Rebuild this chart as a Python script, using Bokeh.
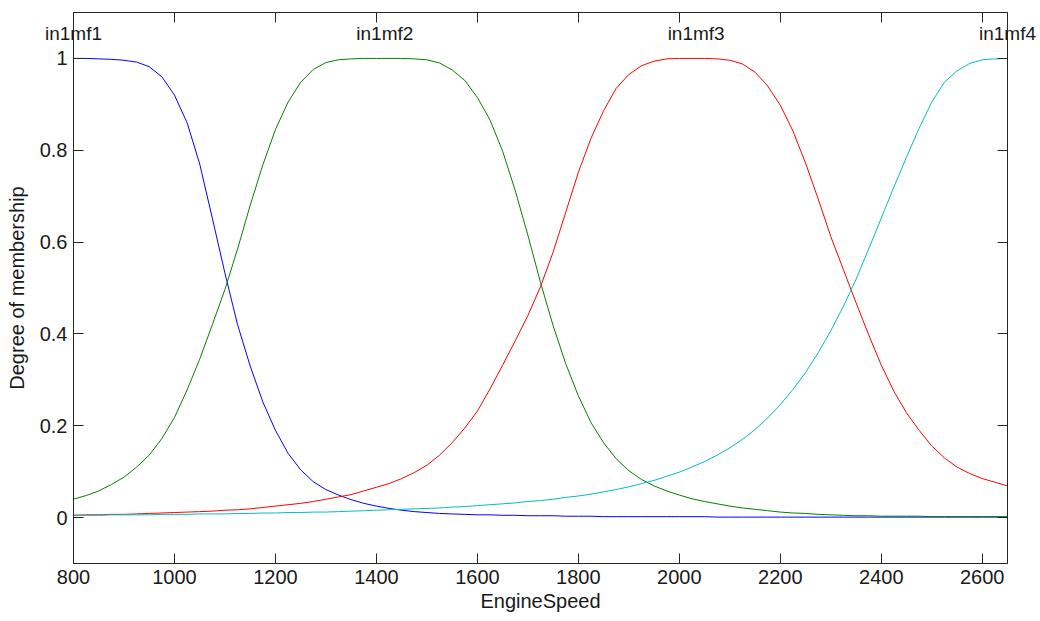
from bokeh.plotting import figure
from bokeh.models import Range1d, LinearAxis, FixedTicker
from bokeh.embed import file_html
from bokeh.resources import INLINE

engine_speed = list(range(800, 2651, 25))

in1mf1 = [1.000, 1.000, 0.999, 0.998, 0.996, 0.992, 0.982, 0.960, 0.920, 0.860,
          0.770, 0.652, 0.532, 0.420, 0.330, 0.252, 0.190, 0.140, 0.104, 0.078,
          0.061, 0.049, 0.039, 0.031, 0.025, 0.020, 0.016, 0.013, 0.011, 0.009,
          0.008, 0.007, 0.006, 0.006, 0.005, 0.005, 0.004, 0.004, 0.004, 0.003,
          0.003, 0.003, 0.002, 0.002, 0.002, 0.002, 0.002, 0.002, 0.002, 0.002,
          0.002, 0.001, 0.001, 0.001, 0.001, 0.001, 0.001, 0.001, 0.001, 0.001,
          0.001, 0.001, 0.001, 0.001, 0.001, 0.001, 0.001, 0.001, 0.001, 0.001,
          0.001, 0.001, 0.001, 0.001, 0.001]

in1mf2 = [0.040, 0.048, 0.058, 0.072, 0.088, 0.110, 0.136, 0.172, 0.218, 0.278,
          0.345, 0.420, 0.497, 0.585, 0.680, 0.768, 0.845, 0.905, 0.948, 0.976,
          0.991, 0.997, 0.999, 1.000, 1.000, 1.000, 1.000, 0.999, 0.997, 0.990,
          0.975, 0.952, 0.915, 0.866, 0.798, 0.712, 0.615, 0.512, 0.418, 0.335,
          0.265, 0.207, 0.163, 0.128, 0.102, 0.083, 0.069, 0.058, 0.049, 0.041,
          0.035, 0.030, 0.025, 0.021, 0.018, 0.015, 0.012, 0.010, 0.009, 0.007,
          0.006, 0.005, 0.004, 0.004, 0.003, 0.003, 0.003, 0.003, 0.002, 0.002,
          0.002, 0.002, 0.002, 0.002, 0.002]

in1mf3 = [0.005, 0.006, 0.006, 0.007, 0.007, 0.008, 0.009, 0.010, 0.011, 0.012,
          0.013, 0.014, 0.016, 0.017, 0.019, 0.022, 0.025, 0.028, 0.031, 0.035,
          0.040, 0.045, 0.050, 0.058, 0.066, 0.074, 0.085, 0.098, 0.114, 0.136,
          0.163, 0.195, 0.232, 0.280, 0.332, 0.385, 0.440, 0.503, 0.578, 0.665,
          0.752, 0.826, 0.886, 0.935, 0.965, 0.984, 0.994, 0.999, 1.000, 1.000,
          1.000, 0.999, 0.996, 0.988, 0.970, 0.940, 0.898, 0.842, 0.772, 0.694,
          0.612, 0.540, 0.468, 0.398, 0.332, 0.275, 0.228, 0.190, 0.156, 0.130,
          0.110, 0.096, 0.085, 0.077, 0.069]

in1mf4 = [0.005, 0.005, 0.005, 0.006, 0.006, 0.006, 0.006, 0.007, 0.007, 0.007,
          0.008, 0.008, 0.008, 0.009, 0.009, 0.010, 0.010, 0.011, 0.011, 0.012,
          0.012, 0.013, 0.014, 0.015, 0.016, 0.017, 0.018, 0.019, 0.020, 0.021,
          0.023, 0.024, 0.026, 0.028, 0.030, 0.032, 0.035, 0.037, 0.040, 0.044,
          0.047, 0.051, 0.056, 0.061, 0.067, 0.074, 0.081, 0.090, 0.099, 0.110,
          0.122, 0.136, 0.152, 0.170, 0.192, 0.217, 0.246, 0.279, 0.316, 0.359,
          0.407, 0.460, 0.519, 0.585, 0.652, 0.720, 0.785, 0.848, 0.905, 0.948,
          0.973, 0.989, 0.997, 0.999, 1.000]

mf_names = ["in1mf1", "in1mf2", "in1mf3", "in1mf4"]
mf_centers = [800, 1416.7, 2033.3, 2650]
mf_colors = ["#0000ff", "#008000", "#ff0000", "#00bfbf"]

x_ticks = [800, 1000, 1200, 1400, 1600, 1800, 2000, 2200, 2400, 2600]
y_ticks = [0, 0.2, 0.4, 0.6, 0.8, 1]
y_tick_labels = ["0", "0.2", "0.4", "0.6", "0.8", "1"]

FONT = "Liberation Sans"
TXT = "#1a1a1a"
LINE = "#262626"

p = figure(width=1040, height=620, output_backend="svg", toolbar_location=None,
           x_range=Range1d(800, 2650), y_range=Range1d(-0.1, 1.1),
           min_border_left=73, min_border_right=33, min_border_top=12,
           min_border_bottom=57, background_fill_color="white",
           border_fill_color="white")
p.outline_line_color = LINE
p.xgrid.visible = False
p.ygrid.visible = False

for ys, col in zip([in1mf1, in1mf2, in1mf3, in1mf4], mf_colors):
    p.line(engine_speed, ys, line_color=col, line_width=1)


def base_style(ax):
    ax.major_tick_in = 10
    ax.major_tick_out = 0
    ax.minor_tick_line_color = None
    ax.axis_line_color = LINE
    ax.major_tick_line_color = LINE
    ax.major_label_text_font = FONT
    ax.major_label_text_color = TXT
    ax.major_label_text_font_size = "20px"


xa = p.xaxis[0]
xa.ticker = FixedTicker(ticks=x_ticks)
base_style(xa)
xa.major_label_standoff = 6
xa.axis_label = "EngineSpeed"
xa.axis_label_text_font = FONT
xa.axis_label_text_font_size = "20px"
xa.axis_label_text_font_style = "normal"
xa.axis_label_text_color = TXT
xa.axis_label_standoff = 3

ya = p.yaxis[0]
ya.ticker = FixedTicker(ticks=y_ticks)
base_style(ya)
ya.major_label_standoff = 6
ya.major_label_overrides = {t: s for t, s in zip(y_ticks, y_tick_labels)}
ya.axis_label = "Degree of membership"
ya.axis_label_text_font = FONT
ya.axis_label_text_font_size = "20px"
ya.axis_label_text_font_style = "normal"
ya.axis_label_text_color = TXT
ya.axis_label_standoff = 9

# Top axis: box tick marks (minor ticks) + membership-function names (major labels, drawn inside)
top = LinearAxis(ticker=FixedTicker(ticks=mf_centers, minor_ticks=x_ticks))
top.axis_line_color = LINE
top.major_tick_line_color = None
top.major_tick_in = 0
top.major_tick_out = 0
top.minor_tick_line_color = LINE
top.minor_tick_in = 10
top.minor_tick_out = 0
top.major_label_overrides = {c: n for c, n in zip(mf_centers, mf_names)}
top.major_label_text_font = FONT
top.major_label_text_font_size = "19px"
top.major_label_text_color = TXT
top.major_label_text_baseline = "alphabetic"
top.major_label_standoff = -31
p.add_layout(top, "above")

# Right axis: box tick marks only
right = LinearAxis(ticker=FixedTicker(ticks=y_ticks))
base_style(right)
right.major_label_overrides = {t: "" for t in y_ticks}
right.major_label_standoff = 0
p.add_layout(right, "right")

open("out.html", "w").write(file_html(p, INLINE))
